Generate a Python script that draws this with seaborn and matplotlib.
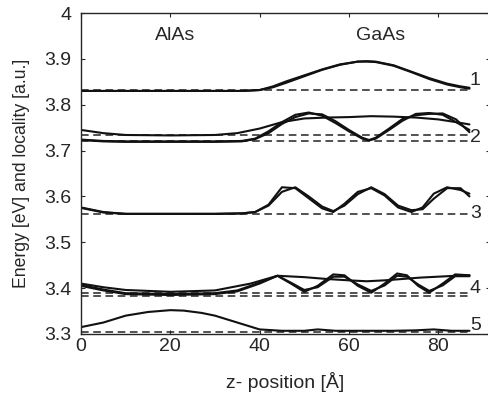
import numpy as np
import pandas as pd
import matplotlib
matplotlib.use('Agg')
import matplotlib.pyplot as plt
import seaborn as sns

# ── data ─────────────────────────────────────────────────────────────────────
# state 1 (two nearly identical curves)
x1 = [0, 10, 20, 30, 36, 40, 43, 46, 50, 54, 58, 62, 64, 66, 70, 74, 78, 82, 85, 87]
y1a = [3.830, 3.830, 3.830, 3.830, 3.830, 3.832, 3.838, 3.848, 3.862, 3.876, 3.887, 3.894,
       3.895, 3.894, 3.886, 3.872, 3.858, 3.846, 3.840, 3.837]
y1b = [3.830, 3.830, 3.830, 3.830, 3.830, 3.832, 3.840, 3.851, 3.864, 3.877, 3.888, 3.894,
       3.894, 3.893, 3.885, 3.871, 3.856, 3.844, 3.838, 3.835]

# state 2
x2w = [0, 5, 10, 20, 30, 35, 40, 45, 50, 55, 60, 65, 70, 75, 80, 84, 87]
y2w = [3.745, 3.738, 3.734, 3.733, 3.734, 3.738, 3.748, 3.762, 3.770, 3.772, 3.773, 3.775,
       3.774, 3.772, 3.768, 3.762, 3.757]
x2 = [0, 5, 10, 20, 30, 36, 39, 42, 45, 48, 51, 54, 57, 60, 63, 64.5, 66, 69, 72, 75, 78, 81, 84, 87]
y2a = [3.724, 3.721, 3.720, 3.720, 3.720, 3.721, 3.726, 3.742, 3.762, 3.778, 3.783, 3.776,
       3.760, 3.742, 3.726, 3.722, 3.726, 3.745, 3.765, 3.780, 3.782, 3.778, 3.762, 3.745]
y2b = [3.723, 3.720, 3.719, 3.719, 3.719, 3.720, 3.725, 3.738, 3.758, 3.773, 3.781, 3.779,
       3.764, 3.745, 3.728, 3.723, 3.728, 3.748, 3.769, 3.777, 3.780, 3.781, 3.768, 3.740]

# state 3
x3 = [0, 5, 10, 20, 30, 36, 39, 42, 45, 48, 51, 54, 56.5, 59, 62, 65, 68, 71, 74, 76.5, 79, 82, 85, 87]
y3a = [3.575, 3.565, 3.562, 3.562, 3.562, 3.563, 3.566, 3.580, 3.610, 3.620, 3.600, 3.578,
       3.568, 3.580, 3.605, 3.620, 3.605, 3.580, 3.570, 3.572, 3.595, 3.618, 3.618, 3.600]
y3b = [3.576, 3.566, 3.562, 3.562, 3.562, 3.563, 3.566, 3.582, 3.620, 3.618, 3.596, 3.574,
       3.566, 3.584, 3.610, 3.618, 3.602, 3.576, 3.566, 3.576, 3.606, 3.620, 3.614, 3.606]

# state 4
x4w = [0, 5, 10, 20, 30, 38, 44, 50, 55, 60, 64, 68, 72, 76, 80, 84, 87]
y4w = [3.410, 3.402, 3.396, 3.392, 3.395, 3.410, 3.427, 3.424, 3.420, 3.417, 3.415, 3.417,
       3.420, 3.423, 3.425, 3.427, 3.428]
x4 = [0, 5, 10, 20, 30, 35, 40, 44, 47, 50, 53, 56.5, 59, 62, 65, 68, 70.8, 73, 75.5, 78, 81, 83.8, 87]
y4a = [3.405, 3.395, 3.387, 3.385, 3.387, 3.393, 3.410, 3.427, 3.410, 3.392, 3.405, 3.430,
       3.428, 3.405, 3.390, 3.410, 3.432, 3.428, 3.405, 3.390, 3.410, 3.430, 3.428]
y4b = [3.407, 3.397, 3.389, 3.387, 3.389, 3.395, 3.412, 3.427, 3.412, 3.396, 3.402, 3.425,
       3.425, 3.408, 3.394, 3.406, 3.427, 3.425, 3.408, 3.394, 3.406, 3.426, 3.426]

# state 5
x5 = [0, 5, 10, 15, 20, 23, 27, 30, 35, 40, 45, 50, 53, 57, 65, 70, 75, 79, 83, 87]
y5 = [3.315, 3.325, 3.340, 3.348, 3.352, 3.351, 3.346, 3.340, 3.325, 3.310, 3.307, 3.307,
      3.310, 3.307, 3.307, 3.307, 3.308, 3.310, 3.307, 3.307]

dash_levels = [3.831, 3.733, 3.720, 3.562, 3.389, 3.383, 3.305]
state_labels = ['1', '2', '3', '4', '5']
label_y = [3.852, 3.728, 3.563, 3.400, 3.318]

curves = {
    '1a': (x1, y1a), '1b': (x1, y1b),
    '2w': (x2w, y2w), '2a': (x2, y2a), '2b': (x2, y2b),
    '3a': (x3, y3a), '3b': (x3, y3b),
    '4w': (x4w, y4w), '4a': (x4, y4a), '4b': (x4, y4b),
    '5': (x5, y5),
}
df = pd.concat([pd.DataFrame({'z': cx, 'E': cy, 'curve': k}) for k, (cx, cy) in curves.items()],
               ignore_index=True)

# ── plot ─────────────────────────────────────────────────────────────────────
sns.set_style('ticks')
plt.rcParams['font.family'] = ['Liberation Sans', 'DejaVu Sans']

fig = plt.figure(figsize=(4.89, 3.99), dpi=100)
ax = fig.add_axes([81 / 489, 65 / 399, 409 / 489, 321 / 399])

ax.hlines(dash_levels, 0, 87, colors='#222222', linestyles=(0, (5, 3)), linewidth=1.1)
sns.lineplot(data=df, x='z', y='E', units='curve', estimator=None, color='#111111',
             linewidth=1.5, sort=False, ax=ax, legend=False)

for lab, ly in zip(state_labels, label_y):
    ax.text(88.3, ly, lab, fontsize=14, ha='center', va='center')
ax.text(21, 3.952, 'AlAs', fontsize=14, ha='center', va='center')
ax.text(67, 3.952, 'GaAs', fontsize=14, ha='center', va='center')

ax.set_xlim(0, 91.6)
ax.set_ylim(3.3, 4.0)
ax.set_xticks([0, 20, 40, 60, 80])
ax.set_yticks([3.3, 3.4, 3.5, 3.6, 3.7, 3.8, 3.9, 4.0])
ax.set_yticklabels(['3.3', '3.4', '3.5', '3.6', '3.7', '3.8', '3.9', '4'])
ax.tick_params(direction='in', top=True, right=True, length=3, labelsize=14, width=0.8)
ax.tick_params(axis='y', pad=7)
ax.tick_params(axis='x', pad=3)
ax.spines['right'].set_visible(False)
for s in ['left', 'bottom', 'top']:
    ax.spines[s].set_linewidth(1.0)
ax.set_xlabel('z- position [Å]', fontsize=14)
ax.set_ylabel('Energy [eV] and locality [a.u.]', fontsize=12.7)
ax.xaxis.set_label_coords(0.5, -0.118)
ax.yaxis.set_label_coords(-0.125, 0.5)

fig.savefig('out.png', dpi=100)
